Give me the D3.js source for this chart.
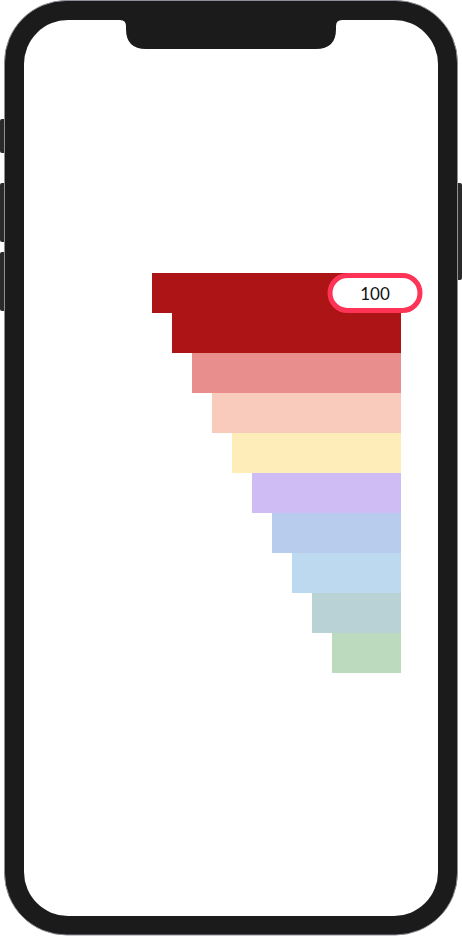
<!DOCTYPE html>
<html>
<head>
<meta charset="utf-8">
<script src="https://cdn.jsdelivr.net/npm/d3@7"></script>
<style>
  html, body { margin: 0; padding: 0; background: #ffffff; }
  svg { display: block; }
</style>
</head>
<body>
<div id="chart"></div>
<script>
const categories = ["Stage 1","Stage 2","Stage 3","Stage 4","Stage 5","Stage 6","Stage 7","Stage 8","Stage 9","Stage 10"];
const values = [100, 90, 80, 70, 60, 50, 40, 30, 20, 10];
const colors = ["#AC1416","#AC1416","#E88E8C","#F8CBBD","#FEEDB8","#D0BCF5","#B8CDEE","#BDD9F0","#B8D2D6","#BCDABE"];
const highlightIndex = 0;

const W = 462, H = 936;
const svg = d3.select("#chart").append("svg").attr("width", W).attr("height", H);

// phone frame
const frame = svg.append("g");
// side buttons
frame.append("rect").attr("x", 0).attr("y", 119).attr("width", 8).attr("height", 34).attr("rx", 2).attr("fill", "#2a2a2a");
frame.append("rect").attr("x", 0).attr("y", 183).attr("width", 8).attr("height", 59).attr("rx", 2).attr("fill", "#2a2a2a");
frame.append("rect").attr("x", 0).attr("y", 252).attr("width", 8).attr("height", 59).attr("rx", 2).attr("fill", "#2a2a2a");
frame.append("rect").attr("x", 454).attr("y", 183).attr("width", 8).attr("height", 97).attr("rx", 2).attr("fill", "#2a2a2a");
// body
frame.append("rect").attr("x", 4.5).attr("y", 0.5).attr("width", 453).attr("height", 934.5).attr("rx", 62)
  .attr("fill", "#1b1b1b").attr("stroke", "#8c8f96").attr("stroke-width", 1);
// screen
frame.append("rect").attr("x", 24).attr("y", 20).attr("width", 414).attr("height", 896).attr("rx", 44).attr("fill", "#ffffff");
// notch
frame.append("path")
  .attr("d", "M120,20 Q126,20 126,26 L126,29 Q126,49 146,49 L316,49 Q336,49 336,29 L336,26 Q336,20 342,20 Z")
  .attr("fill", "#1b1b1b");

// chart
const right = 401;
const x = d3.scaleLinear().domain([0, 100]).range([right - 49, right - 249]);
const y = d3.scaleBand().domain(categories).range([273, 673]).padding(0);

const g = svg.append("g");
g.selectAll("rect.bar").data(categories).join("rect")
  .attr("class", "bar")
  .attr("x", (d, i) => x(values[i]))
  .attr("y", d => y(d))
  .attr("width", (d, i) => right - x(values[i]))
  .attr("height", y.bandwidth())
  .attr("fill", (d, i) => colors[i]);

// highlight label pill
const hy = y(categories[highlightIndex]);
const pillW = 90, pillH = y.bandwidth() - 5;
const pillCx = 375;
const lab = svg.append("g");
lab.append("rect")
  .attr("x", pillCx - pillW / 2).attr("y", hy + 2.5)
  .attr("width", pillW).attr("height", pillH).attr("rx", pillH / 2)
  .attr("fill", "#ffffff").attr("stroke", "#FF3355").attr("stroke-width", 5);
lab.append("text")
  .attr("x", pillCx).attr("y", hy + y.bandwidth() / 2)
  .attr("text-anchor", "middle").attr("dominant-baseline", "central")
  .attr("font-family", "Lato, 'Noto Sans', sans-serif").attr("font-size", 17)
  .attr("fill", "#111111")
  .text(values[highlightIndex]);
</script>
</body>
</html>
